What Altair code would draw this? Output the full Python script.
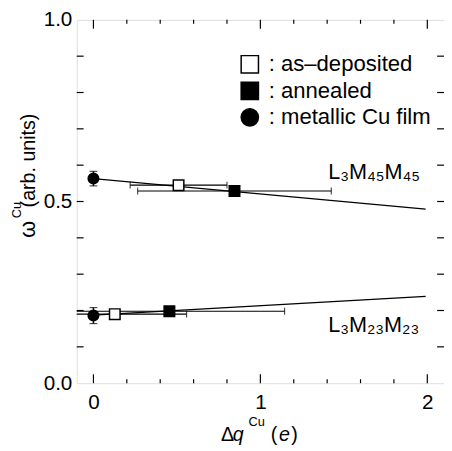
import altair as alt
import pandas as pd

# ---------------- data ----------------
samples = ["as–deposited", "annealed", "metallic Cu film"]
sample_fill = ["white", "black", "black"]
sample_shape = ["square", "square", "circle"]
sample_stroke = ["black", "black", "black"]

pt_line = ["L3M45M45"] * 3 + ["L3M23M23"] * 3
pt_sample = ["metallic Cu film", "as–deposited", "annealed"] * 2
pt_x = [0.0, 0.51, 0.845, 0.0, 0.128, 0.455]
pt_y = [0.563, 0.545, 0.529, 0.186, 0.190, 0.198]
pt_xerr = [0.0, 0.29, 0.58, 0.0, 0.43, 0.69]
pt_yerr = [0.02, 0.0, 0.0, 0.022, 0.0, 0.0]

fit_line = ["L3M45M45", "L3M45M45", "L3M23M23", "L3M23M23"]
fit_x = [0.0, 1.99, 0.0, 1.99]
fit_y = [0.563, 0.479, 0.187, 0.239]

ann_text = ["L₃M₄₅M₄₅", "L₃M₂₃M₂₃"]
ann_x = [1.406, 1.406]
ann_y = [0.561, 0.142]

x_major = [0, 1, 2]
x_minor = [0.2, 0.4, 0.6, 0.8, 1.2, 1.4, 1.6, 1.8]
y_ticks = [0.1, 0.2, 0.3, 0.4, 0.5, 0.6, 0.7, 0.8, 0.9]
y_labels = [0.0, 0.5, 1.0]

X_DOM = [-0.1, 2.1]
Y_DOM = [0.0, 1.0]
W, H = 374, 370
FONT = "Liberation Sans"

xs = alt.Scale(domain=X_DOM, nice=False, zero=False)
ys = alt.Scale(domain=Y_DOM, nice=False, zero=False)

pts = pd.DataFrame({"line": pt_line, "sample": pt_sample, "x": pt_x, "y": pt_y,
                    "xerr": pt_xerr, "yerr": pt_yerr})
pts["xlo"] = pts.x - pts.xerr
pts["xhi"] = pts.x + pts.xerr
pts["ylo"] = pts.y - pts.yerr
pts["yhi"] = pts.y + pts.yerr
xe = pts[pts.xerr > 0]
ye = pts[pts.yerr > 0]
fits = pd.DataFrame({"line": fit_line, "x": fit_x, "y": fit_y})
anns = pd.DataFrame({"t": ann_text, "x": ann_x, "y": ann_y})

# tick lengths in data units
ytl = 7 * (X_DOM[1] - X_DOM[0]) / W
xtl_maj = 9 * (Y_DOM[1] - Y_DOM[0]) / H
xtl_min = 4 * (Y_DOM[1] - Y_DOM[0]) / H

yt = pd.DataFrame({"y": y_ticks * 2,
                   "x": [X_DOM[0]] * len(y_ticks) + [X_DOM[1] - ytl] * len(y_ticks),
                   "x2": [X_DOM[0] + ytl] * len(y_ticks) + [X_DOM[1]] * len(y_ticks)})
xt_rows = []
for v in x_major:
    xt_rows.append({"x": v, "y": Y_DOM[0], "y2": Y_DOM[0] + xtl_maj})
    xt_rows.append({"x": v, "y": Y_DOM[1] - xtl_maj, "y2": Y_DOM[1]})
for v in x_minor:
    xt_rows.append({"x": v, "y": Y_DOM[0], "y2": Y_DOM[0] + xtl_min})
    xt_rows.append({"x": v, "y": Y_DOM[1] - xtl_min, "y2": Y_DOM[1]})
xt = pd.DataFrame(xt_rows)

base_x = alt.X("x:Q", scale=xs,
               axis=alt.Axis(values=x_major, format="d", ticks=False, domain=False, grid=False,
                             title=None, labelFontSize=21, labelFont=FONT, labelColor="black",
                             labelPadding=9))
base_y = alt.Y("y:Q", scale=ys,
               axis=alt.Axis(values=y_labels, format=".1f", ticks=False, domain=False, grid=False,
                             title=None, labelFontSize=21, labelFont=FONT, labelColor="black",
                             labelPadding=5))

ytick_layer = alt.Chart(yt).mark_rule(color="black", strokeWidth=1.2).encode(
    x=base_x, x2="x2:Q", y=base_y)
xtick_layer = alt.Chart(xt).mark_rule(color="black", strokeWidth=1.2).encode(
    x=alt.X("x:Q", scale=xs), y=alt.Y("y:Q", scale=ys), y2="y2:Q")

fit_layer = alt.Chart(fits).mark_line(color="black", strokeWidth=1.3).encode(
    x=alt.X("x:Q", scale=xs), y=alt.Y("y:Q", scale=ys), detail="line:N")

xerr_layer = alt.Chart(xe).mark_rule(color="black", strokeWidth=1.2, clip=True).encode(
    x=alt.X("xlo:Q", scale=xs), x2="xhi:Q", y=alt.Y("y:Q", scale=ys))
xcap_lo = alt.Chart(xe).mark_tick(color="black", orient="vertical", size=7, thickness=1.2,
                                  clip=True).encode(
    x=alt.X("xlo:Q", scale=xs), y=alt.Y("y:Q", scale=ys))
xcap_hi = alt.Chart(xe).mark_tick(color="black", orient="vertical", size=7, thickness=1.2,
                                  clip=True).encode(
    x=alt.X("xhi:Q", scale=xs), y=alt.Y("y:Q", scale=ys))
yerr_layer = alt.Chart(ye).mark_rule(color="black", strokeWidth=1.5).encode(
    x=alt.X("x:Q", scale=xs), y=alt.Y("ylo:Q", scale=ys), y2="yhi:Q")
ycap_lo = alt.Chart(ye).mark_tick(color="black", orient="horizontal", size=8, thickness=1.2).encode(
    x=alt.X("x:Q", scale=xs), y=alt.Y("ylo:Q", scale=ys))
ycap_hi = alt.Chart(ye).mark_tick(color="black", orient="horizontal", size=8, thickness=1.2).encode(
    x=alt.X("x:Q", scale=xs), y=alt.Y("yhi:Q", scale=ys))

legend = alt.Legend(title=None, orient="none", legendX=165, legendY=34, padding=0,
                    labelFontSize=22.5, labelFont=FONT, labelColor="black", labelLimit=0,
                    symbolSize=310, symbolStrokeColor="black", symbolStrokeWidth=1.5,
                    rowPadding=2, labelOffset=8, labelExpr="': ' + datum.label",
                    symbolOpacity=1)
pt_layer = alt.Chart(pts).mark_point(strokeWidth=1.5, opacity=1, fillOpacity=1,
                                     size=115).encode(
    x=alt.X("x:Q", scale=xs), y=alt.Y("y:Q", scale=ys),
    fill=alt.Fill("sample:N", scale=alt.Scale(domain=samples, range=sample_fill),
                  legend=legend, sort=samples),
    stroke=alt.Stroke("sample:N", scale=alt.Scale(domain=samples, range=sample_stroke),
                      legend=legend, sort=samples),
    shape=alt.Shape("sample:N", scale=alt.Scale(domain=samples, range=sample_shape),
                    legend=legend, sort=samples))

ann_layer = alt.Chart(anns).mark_text(align="left", baseline="alphabetic", fontSize=22,
                                      font=FONT, color="black").encode(
    x=alt.X("x:Q", scale=xs), y=alt.Y("y:Q", scale=ys), text="t:N")

# axis titles (pieces, pixel positions relative to the plot area)
def piece(txt, x, y, size=20, style="normal", angle=0, align="left"):
    return alt.Chart(pd.DataFrame({"t": [txt]})).mark_text(
        align=align, baseline="alphabetic", fontSize=size, font=FONT, fontStyle=style,
        angle=angle, color="black").encode(text="t:N", x=alt.value(x), y=alt.value(y))

xt_pieces = [
    piece("Δ", 147, 429),
    piece("q", 159, 429, style="italic"),
    piece("Cu", 175, 414, size=13),
    piece("(", 197.5, 429),
    piece("e", 206, 429, style="italic"),
    piece(")", 218.5, 429),
]
yt_pieces = [
    piece("ω", -42, 222, size=22, angle=270),
    piece("Cu", -57, 202, size=13, angle=270),
    piece("(arb. units)", -43, 191, size=20, angle=270),
]

chart = alt.layer(
    ytick_layer, xtick_layer, fit_layer, xerr_layer, xcap_lo, xcap_hi,
    yerr_layer, ycap_lo, ycap_hi, pt_layer, ann_layer, *xt_pieces, *yt_pieces
).properties(
    width=W, height=H,
    autosize=alt.AutoSizeParams(type="none"),
    padding={"left": 70, "top": 8, "right": 0, "bottom": 64},
).configure_view(
    stroke="black", strokeWidth=1.3
).configure(background="white")

chart.save("out.html", embed_options={"renderer": "svg", "actions": False})
